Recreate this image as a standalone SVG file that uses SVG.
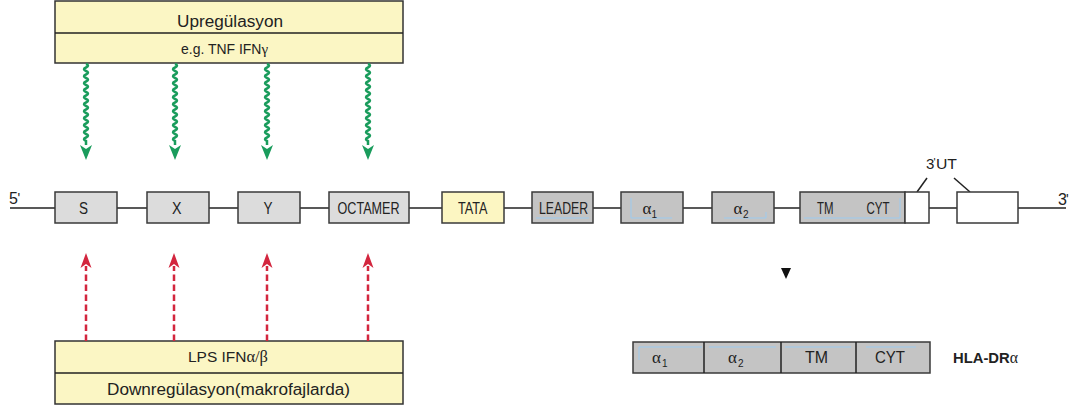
<svg xmlns="http://www.w3.org/2000/svg" width="1069" height="406" viewBox="0 0 1069 406">
  <style>
    text { font-family: "Liberation Sans", Arial, sans-serif; fill: #222; font-size: 16px; }
    .banner { fill: #fbf6c4; stroke: #333; stroke-width: 1.5; }
    .light { fill: #dcdcdc; stroke: #3a3a3a; stroke-width: 1.5; }
    .dark { fill: #c4c4c4; stroke: #3a3a3a; stroke-width: 1.5; }
    .yel { fill: #fcf6c2; stroke: #3a3a3a; stroke-width: 1.5; }
    .white { fill: #fff; stroke: #3a3a3a; stroke-width: 1.5; }
    .wire { stroke: #222; stroke-width: 1.5; fill: none; }
    .hint { stroke: #9ccbf0; stroke-width: 1; fill: none; }
    .greek { font-family: "Liberation Serif", "DejaVu Serif", serif; font-size: 17px; }
    .sub { font-size: 10px; }
    .prime { font-size: 14px; }
    .wave { stroke: #1a9c5c; stroke-width: 2.5; fill: none; }
    .dash { stroke: #d3263e; stroke-width: 2.5; stroke-dasharray: 6.5 3.5; fill: none; }
  </style>
  <defs>
    <!-- wavy activating signal, drawn from its top point -->
    <g id="upArrow">
      <path class="wave" d="M0,0 q4,1.75 0,3.5 q-4,1.75 0,3.5 q4,1.75 0,3.5 q-4,1.75 0,3.5 q4,1.75 0,3.5 q-4,1.75 0,3.5 q4,1.75 0,3.5 q-4,1.75 0,3.5 q4,1.75 0,3.5 q-4,1.75 0,3.5 q4,1.75 0,3.5 q-4,1.75 0,3.5 q4,1.75 0,3.5 q-4,1.75 0,3.5 q4,1.75 0,3.5 q-4,1.75 0,3.5 q4,1.75 0,3.5 q-4,1.75 0,3.5 q4,1.75 0,3.5 q-4,1.75 0,3.5 q4,1.75 0,3.5 q-4,1.75 0,3.5 l0,4"/>
      <path d="M-6,81 L0,96 L6,81 L0,85 Z" fill="#1a9c5c"/>
    </g>
    <!-- dashed repressing signal, drawn from its tip -->
    <g id="downArrow">
      <line class="dash" x1="0" y1="88" x2="0" y2="13"/>
      <path d="M-5.5,15 L0,0 L5.5,15 L0,11 Z" fill="#d3263e"/>
    </g>
  </defs>

  <!-- upregulation banner -->
  <g id="upregulation">
    <rect class="banner" x="55" y="1" width="348" height="62"/>
    <line class="wire" x1="55" y1="33" x2="403" y2="33"/>
    <text x="177" y="27" font-size="16.5" textLength="106" lengthAdjust="spacingAndGlyphs">Upregülasyon</text>
    <text x="181" y="54" style="font-size:14px" textLength="87" lengthAdjust="spacingAndGlyphs">e.g. TNF IFN<tspan style="font-family:'Liberation Serif',serif;font-size:15px">γ</tspan></text>
  </g>

  <!-- downregulation banner -->
  <g id="downregulation">
    <rect class="banner" x="55" y="341" width="348" height="63"/>
    <line class="wire" x1="55" y1="373" x2="403" y2="373"/>
    <text x="188" y="362" style="font-size:15px" textLength="80" lengthAdjust="spacingAndGlyphs">LPS IFN<tspan style="font-family:'Liberation Serif',serif;font-size:16px">α/β</tspan></text>
    <text x="107" y="395" font-size="16.5" textLength="243" lengthAdjust="spacingAndGlyphs">Downregülasyon(makrofajlarda)</text>
  </g>

  <!-- connectors -->
  <g id="connectors">
    <line class="wire" x1="10" y1="208" x2="1066" y2="208"/>
    <line class="wire" x1="917" y1="192" x2="927" y2="178"/>
    <line class="wire" x1="954" y1="178" x2="970" y2="192"/>
    <use href="#upArrow" x="86" y="64"/>
    <use href="#upArrow" x="175" y="64"/>
    <use href="#upArrow" x="267" y="64"/>
    <use href="#upArrow" x="368" y="64"/>
    <use href="#downArrow" x="86" y="253"/>
    <use href="#downArrow" x="174" y="253"/>
    <use href="#downArrow" x="267" y="253"/>
    <use href="#downArrow" x="368" y="253"/>
  </g>

  <!-- strand ends -->
  <g id="ends">
    <text x="9" y="204">5</text>
    <text class="prime" x="17.5" y="203">'</text>
    <text x="1058" y="205">3</text>
    <text class="prime" x="1066" y="204">'</text>
  </g>

  <!-- promoter elements -->
  <g id="S">
    <rect class="light" x="55" y="192" width="62" height="31"/>
    <text x="79" y="214" textLength="9" lengthAdjust="spacingAndGlyphs">S</text>
  </g>
  <g id="X">
    <rect class="light" x="147" y="192" width="62" height="31"/>
    <text x="172" y="214" textLength="9.5" lengthAdjust="spacingAndGlyphs">X</text>
  </g>
  <g id="Y">
    <rect class="light" x="238" y="192" width="62" height="31"/>
    <text x="263.5" y="214" textLength="9" lengthAdjust="spacingAndGlyphs">Y</text>
  </g>
  <g id="OCTAMER">
    <rect class="light" x="329" y="192" width="80" height="31"/>
    <text x="337.5" y="214" textLength="62" lengthAdjust="spacingAndGlyphs">OCTAMER</text>
  </g>
  <g id="TATA">
    <rect class="yel" x="442" y="192" width="62" height="31"/>
    <text x="458" y="214" textLength="29.5" lengthAdjust="spacingAndGlyphs">TATA</text>
  </g>

  <!-- exons -->
  <g id="LEADER">
    <rect class="dark" x="532" y="192" width="61" height="31"/>
    <line class="hint" x1="536" y1="218" x2="589" y2="218"/>
    <text x="539" y="214" textLength="49" lengthAdjust="spacingAndGlyphs">LEADER</text>
  </g>
  <g id="alpha1">
    <rect class="dark" x="621" y="192" width="62" height="31"/>
    <path class="hint" d="M631,198 V218 H672"/>
    <text class="greek" x="642.5" y="214">α</text>
    <text class="sub" x="651.5" y="218">1</text>
  </g>
  <g id="alpha2">
    <rect class="dark" x="712" y="192" width="62" height="31"/>
    <path class="hint" d="M724,218 H766 V212"/>
    <text class="greek" x="733.5" y="214">α</text>
    <text class="sub" x="743" y="218">2</text>
  </g>
  <g id="TM-CYT">
    <rect class="dark" x="800" y="192" width="105" height="31"/>
    <path class="hint" d="M804,218 H900 V198"/>
    <text x="817" y="214" textLength="16.5" lengthAdjust="spacingAndGlyphs">TM</text>
    <text x="866.5" y="214" textLength="23" lengthAdjust="spacingAndGlyphs">CYT</text>
  </g>
  <g id="UT1">
    <rect class="white" x="905" y="192" width="24" height="31"/>
  </g>
  <g id="UT2">
    <rect class="white" x="957" y="192" width="61" height="31"/>
  </g>
  <g id="UT-label">
    <text x="926" y="169" style="font-size:15px">3</text>
    <text x="933.5" y="166" style="font-size:11px">'</text>
    <text x="936" y="169" style="font-size:15px" textLength="21" lengthAdjust="spacingAndGlyphs">UT</text>
  </g>

  <!-- splicing marker -->
  <g id="pointer">
    <path d="M781,268 L791,268 L786,279 Z" fill="#111"/>
  </g>

  <!-- mature transcript -->
  <g id="HLA-DRa">
    <rect class="dark" x="633" y="342" width="297" height="31"/>
    <line class="wire" x1="704" y1="342" x2="704" y2="373"/>
    <line class="wire" x1="781" y1="342" x2="781" y2="373"/>
    <line class="wire" x1="856" y1="342" x2="856" y2="373"/>
    <path class="hint" d="M639,360 V347 H702"/>
    <line class="hint" x1="709" y1="347" x2="776" y2="347"/>
    <line class="hint" x1="785" y1="347" x2="851" y2="347"/>
    <line class="hint" x1="866" y1="347" x2="916" y2="347"/>
    <text class="greek" x="652" y="363">α</text>
    <text class="sub" x="662" y="367">1</text>
    <text class="greek" x="728" y="363">α</text>
    <text class="sub" x="738" y="367">2</text>
    <text x="805" y="363" textLength="23" lengthAdjust="spacingAndGlyphs">TM</text>
    <text x="875" y="363" textLength="30" lengthAdjust="spacingAndGlyphs">CYT</text>
    <text x="953" y="363" style="font-size:15px;font-weight:bold" textLength="65" lengthAdjust="spacingAndGlyphs">HLA-DR<tspan style="font-family:'Liberation Serif',serif;font-weight:normal;font-size:16px">α</tspan></text>
  </g>
</svg>
